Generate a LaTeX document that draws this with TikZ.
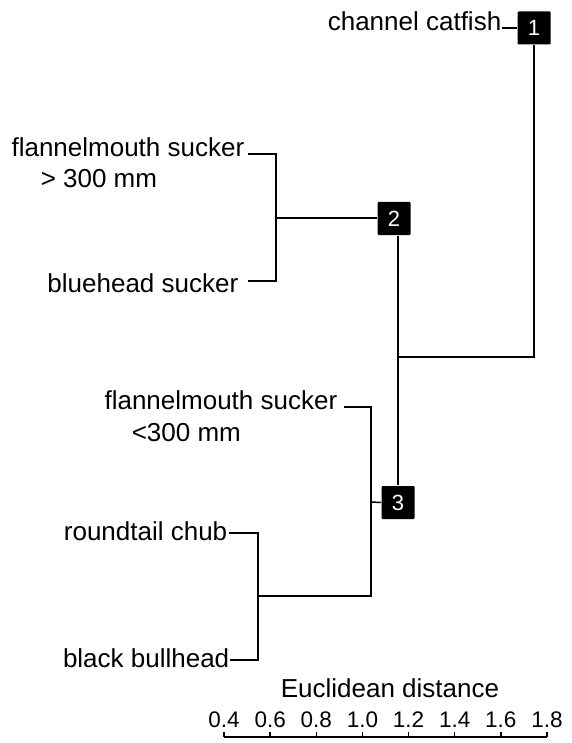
\documentclass[tikz,border=0pt]{standalone}
\usepackage{fontspec}
\setmainfont{Liberation Sans}
\usetikzlibrary{positioning}

\begin{document}
\begin{tikzpicture}[x=1pt, y=-1pt, line width=1.5pt,
    leaf node/.style={inner sep=0pt, anchor=base east, font=\fontsize{26}{30}\selectfont},
    size node/.style={inner sep=0pt, anchor=base west, font=\fontsize{26}{30}\selectfont},
    box node/.style={rectangle, fill=black, text=white, rounded corners=1pt, minimum size=33pt, inner sep=0pt, font=\fontsize{22}{22}\selectfont},
    tick node/.style={inner sep=0pt, font=\fontsize{22.5}{24}\selectfont}]
\useasboundingbox (0,0) rectangle (571,743);

% leaves
\node[leaf node] (catfish) at (502,31) {channel catfish};
\node[leaf node] (fmsbig) at (245,157) {flannelmouth sucker};
\node[size node] (fmsbigsize) at (40,188) {> 300 mm};
\node[leaf node] (bluehead) at (239,292) {bluehead sucker};
\node[leaf node] (fmssmall) at (338,409) {flannelmouth sucker};
\node[size node] (fmssmallsize) at (131,441) {<300 mm};
\node[leaf node] (roundtail) at (228,540) {roundtail chub};
\node[leaf node] (bullhead) at (230,667) {black bullhead};

% numbered boxes
\node[box node] (box1) at (534,28) {1};
\node[box node] (box2) at (394,218.5) {2};
\node[box node] (box3) at (398,502.5) {3};

% joints
\coordinate (jA) at (276,218);
\coordinate (jB) at (371,502);
\coordinate (jC) at (258,596);
\coordinate (j13) at (398,357);

% branches
\draw (catfish.east |- box1) -- (box1.west);
\draw ([xshift=3pt,yshift=3pt]fmsbig.base east) -| (jA) |- ([xshift=9pt,yshift=11pt]bluehead.base east);
\draw (jA) -- (jA -| box2.west);
\draw ([xshift=6pt,yshift=2pt]fmssmall.base east) -| (jB) |- (jC);
\draw (jB) -- (box3.west);
\draw ([xshift=1pt,yshift=7pt]roundtail.base east) -| (jC) |- ([yshift=7pt]bullhead.base east);
\draw (box3 |- box2.south) -- (box3.north);
\draw (box1.south) |- (j13);

% axis
\node[leaf node, anchor=center] (axistitle) at (390,688) {Euclidean distance};
\draw (224,737) -- (547,737);
\foreach \lab [count=\i from 0] in {0.4,0.6,0.8,1.0,1.2,1.4,1.6,1.8} {
    \draw (224+46.14*\i,737) -- ++(0,-5);
    \node[tick node] (tick\i) at (224+46.14*\i,720) {\lab};
}
\end{tikzpicture}
\end{document}
